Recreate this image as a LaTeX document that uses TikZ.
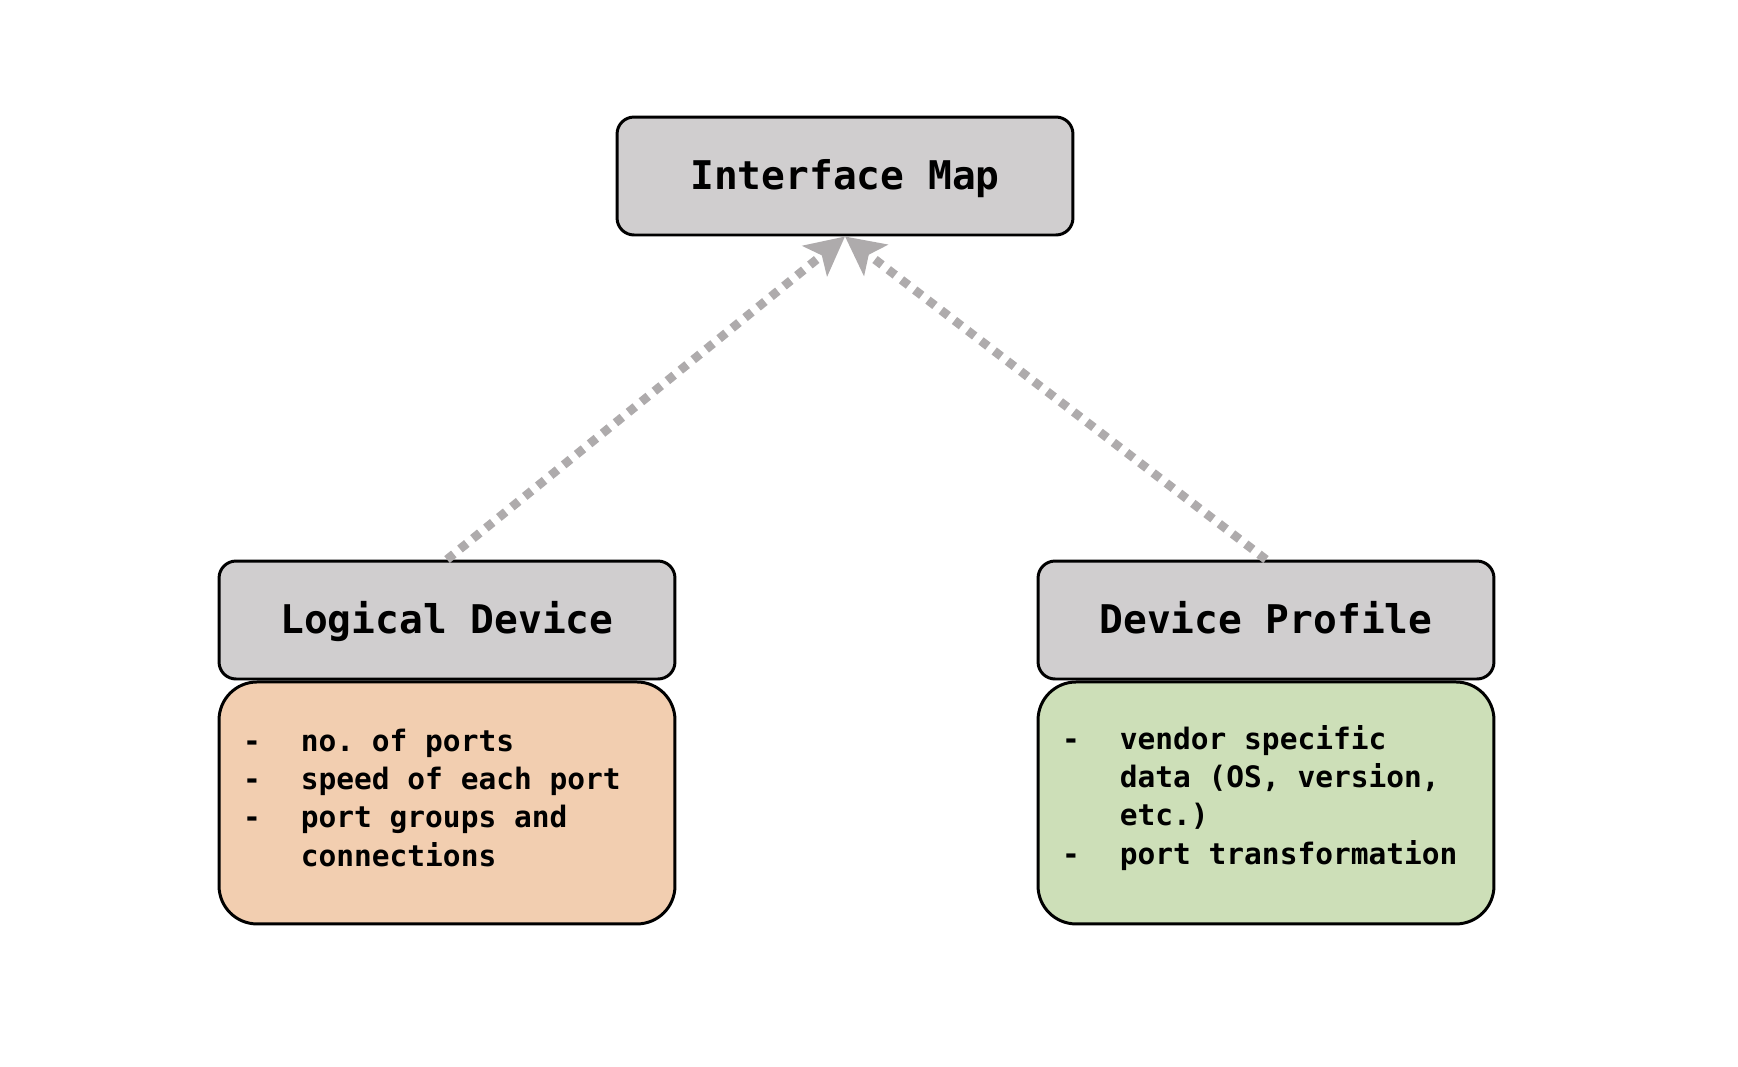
\documentclass[tikz,border=0pt]{standalone}
\usepackage{fontspec}
\setmonofont{DejaVu Sans Mono}[WordSpace={1,0,0}]
\usepackage{tikz}
\usetikzlibrary{arrows.meta,positioning}

\definecolor{boxgray}{RGB}{208,206,207}
\definecolor{portorange}{RGB}{242,206,176}
\definecolor{profgreen}{RGB}{205,223,184}
\definecolor{arrowgray}{RGB}{174,171,172}

\newcommand{\litem}[1]{\makebox[32.9pt][l]{-}#1}
\newcommand{\lcont}[1]{\hspace*{32.9pt}#1}

\tikzset{
  title/.style={draw, fill=boxgray, rounded corners=0.34cm, line width=1.7pt,
    minimum width=9.12cm, minimum height=2.36cm, text height=20.4pt, text depth=4.5pt,
    font=\ttfamily\bfseries\fontsize{22.5}{26}\selectfont},
  body/.style={draw, rounded corners=0.76cm, line width=1.7pt,
    minimum width=9.12cm, minimum height=4.84cm, inner xsep=0.48cm,
    text width=8.16cm, align=left,
    font=\ttfamily\bfseries\fontsize{16.8}{21.8}\selectfont\frenchspacing,
    execute at begin node={\spaceskip=0pt\xspaceskip=0pt},
    execute at end node={\par\vspace{6pt}}},
  dep/.style={->, draw=arrowgray, line width=5pt, dash pattern=on 5pt off 4.5pt}
}

\begin{document}
\begin{tikzpicture}[x=0.02cm, y=-0.02cm, >={Stealth[length=22pt,width=22pt,inset=5pt]}]
  \useasboundingbox (0,0) rectangle (1738,1066);
  \node (im) [title] at (845,176) {Interface Map};
  \node (ld) [title] at (447,620) {Logical Device};
  \node (dp) [title] at (1266,620) {Device Profile};
  \node (ldbody) [body, fill=portorange, below=0pt of ld]
    {\litem{no. of ports}\\ \litem{speed of each port}\\ \litem{port groups and}\\ \lcont{connections}};
  \node (dpbody) [body, fill=profgreen, below=0pt of dp]
    {\litem{vendor specific}\\ \lcont{data (OS, version,}\\ \lcont{etc.)}\\ \litem{port transformation}};
  \path (ld.north) edge [dep] (im.south)
        (dp.north) edge [dep] (im.south);
\end{tikzpicture}
\end{document}
